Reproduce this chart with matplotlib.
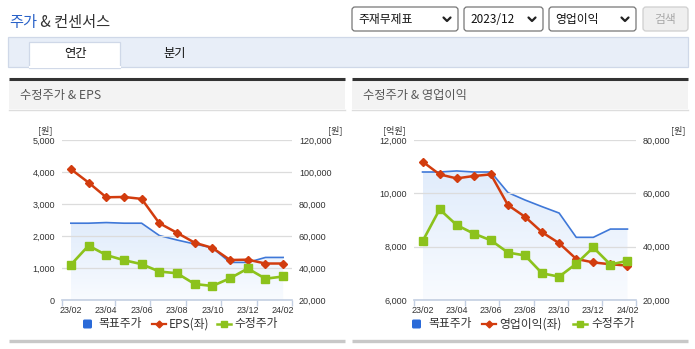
import matplotlib
matplotlib.use("Agg")
import matplotlib.pyplot as plt
import numpy as np
from matplotlib.patches import Rectangle, FancyBboxPatch

plt.rcParams["font.family"] = ["Noto Sans CJK KR", "DejaVu Sans"]

W, H = 695, 349

months = ["23/02", "23/03", "23/04", "23/05", "23/06", "23/07", "23/08",
          "23/09", "23/10", "23/11", "23/12", "24/01", "24/02"]
tick_labels = months[::2]

target_price = [68000, 68000, 68400, 68000, 68000, 60300, 57500, 55000, 52600,
                43500, 43500, 46600, 46600]
adj_price = [42000, 54000, 48100, 44900, 42400, 37800, 36700, 30000, 28750,
             33600, 39700, 33300, 34700]
eps = [4090, 3670, 3210, 3220, 3160, 2400, 2100, 1790, 1630, 1250, 1260, 1140, 1140]
op_income = [11190, 10710, 10560, 10650, 10710, 9560, 9120, 8540, 8130,
             7540, 7410, 7340, 7290]

BLUE = "#3f78d8"
RED = "#d23c0e"
GREEN = "#8cc21c"
TXT = "#333333"
AXC = "#c3cfe2"


def rect(x0, y0, x1, y1):
    return [x0 / W, 1 - y1 / H, (x1 - x0) / W, (y1 - y0) / H]


fig = plt.figure(figsize=(W / 100, H / 100), dpi=100)
bg = fig.add_axes([0, 0, 1, 1])
bg.set_xlim(0, W)
bg.set_ylim(H, 0)
bg.axis("off")

# header
t1 = bg.text(9, 23, "주가", fontsize=11, color="#2a62c8", va="center", ha="left")
bg.annotate(" & 컨센서스", xycoords=t1, xy=(1, 0.5), va="center", ha="left",
            fontsize=11, color=TXT)

boxes = [(352, 458, "주재무제표"), (464, 543, "2023/12"), (549, 636, "영업이익")]
for x0, x1, label in boxes:
    bg.add_patch(FancyBboxPatch((x0, 7), x1 - x0, 24, boxstyle="round,pad=0,rounding_size=3",
                                facecolor="white", edgecolor="#767676", lw=0.9))
    bg.text(x0 + 6, 19.5, label, fontsize=8.5, color="#111111", va="center", ha="left")
    cx = x1 - 11
    bg.plot([cx - 3.5, cx, cx + 3.5], [17.5, 21, 17.5], color="#222222", lw=1.6,
            solid_capstyle="round", solid_joinstyle="round")
bg.add_patch(FancyBboxPatch((643, 7), 45, 24, boxstyle="round,pad=0,rounding_size=3",
                            facecolor="#efefef", edgecolor="#cfcfcf", lw=0.9))
bg.text(665.5, 19.5, "검색", fontsize=8.5, color="#a8a8a8", va="center", ha="center")

# tabs
bg.add_patch(Rectangle((8, 37), 680, 30, facecolor="#e8eef8", edgecolor="#cfd8e8", lw=0.9))
bg.add_patch(Rectangle((29, 42), 91, 26, facecolor="white", edgecolor="#cfd8e8", lw=0.9))
bg.plot([29.5, 119.5], [67, 67], color="white", lw=1.5)
bg.text(75, 54, "연간", fontsize=8.8, color="#111111", va="center", ha="center")
bg.text(175, 54, "분기", fontsize=8.8, color="#111111", va="center", ha="center")

panels = [(9, 345, "수정주가 & EPS"), (352, 688, "수정주가 & 영업이익")]
for x0, x1, title in panels:
    bg.add_patch(Rectangle((x0, 80), x1 - x0, 29, facecolor="#f3f3f3", edgecolor="none"))
    bg.plot([x0, x1], [78.5, 78.5], color="#333333", lw=2.2, solid_capstyle="butt")
    bg.plot([x0, x1], [109.5, 109.5], color="#dddddd", lw=1)
    bg.plot([x0, x1], [341, 341], color="#c8c8c8", lw=2.4, solid_capstyle="butt")
    bg.text(x0 + 11, 95, title, fontsize=8.8, color="#555555", va="center", ha="left")


def draw_chart(x0, x1, bar_vals, bar_lim, bar_ticks, price_lim, price_ticks,
               left_unit, left_unit_x, right_unit_x):
    ax = fig.add_axes(rect(x0, 140, x1, 300))
    axb = ax.twinx()
    axg = ax.twinx()
    axb.set_zorder(1)
    ax.set_zorder(2)
    axg.set_zorder(3)
    ax.patch.set_visible(False)
    axb.patch.set_visible(False)
    axg.patch.set_visible(False)

    x = np.arange(len(months))
    for a in (ax, axb, axg):
        a.set_xlim(-0.5, len(months) - 0.5)
        for s in a.spines.values():
            s.set_visible(False)
    ax.spines["bottom"].set_visible(True)
    ax.spines["bottom"].set_color(AXC)
    ax.spines["bottom"].set_linewidth(1.2)

    ax.set_ylim(*bar_lim)
    axb.set_ylim(*price_lim)
    axg.set_ylim(*price_lim)

    # target price area with gradient
    poly = axb.fill_between(x, target_price, price_lim[0], facecolor="none", edgecolor="none")
    grad = np.zeros((256, 1, 4))
    top = np.array([0.88, 0.925, 0.985])
    bot = np.array([0.975, 0.985, 1.0])
    t = np.linspace(0, 1, 256)[:, None]
    grad[:, 0, :3] = bot + (top - bot) * t
    grad[:, 0, 3] = 1
    im = axb.imshow(grad, extent=[0, len(months) - 1, price_lim[0], max(target_price)],
                    origin="lower", aspect="auto", zorder=1)
    im.set_clip_path(poly.get_paths()[0], transform=axb.transData)
    axb.set_xlim(-0.5, len(months) - 0.5)
    axb.set_ylim(*price_lim)
    axb.plot(x, target_price, color=BLUE, lw=1.2, zorder=2)

    ax.plot(x, bar_vals, color=RED, lw=1.8, marker="D", ms=4.2, zorder=3)
    axg.plot(x, adj_price, color=GREEN, lw=1.9, marker="s", ms=5.8, zorder=3)

    ax.set_yticks(bar_ticks)
    ax.set_yticklabels([f"{v:,}" for v in bar_ticks])
    ax.grid(axis="y", color="#dcdcdc", lw=0.9)
    ax.set_axisbelow(True)
    ax.tick_params(axis="y", length=0, pad=5, labelsize=6.5, labelcolor=TXT)
    axb.set_yticks(price_ticks)
    axb.set_yticklabels([f"{v:,}" for v in price_ticks])
    axb.tick_params(axis="y", length=0, pad=5, labelsize=6.5, labelcolor=TXT)
    axg.set_yticks([])

    ax.set_xticks(x[::2])
    ax.set_xticklabels(tick_labels)
    ax.set_xticks(np.array([0, 3, 5, 7, 9, 11, 13]) - 0.5, minor=True)
    ax.tick_params(axis="x", which="major", length=0, pad=4.5, labelsize=6.5, labelcolor=TXT)
    ax.tick_params(axis="x", which="minor", length=4, width=1, color=AXC)
    for lab in ax.get_yticklabels() + axb.get_yticklabels() + ax.get_xticklabels():
        lab.set_fontfamily(["Liberation Sans", "DejaVu Sans"])

    bg.text(left_unit_x, 130, left_unit, fontsize=6.5, color=TXT, ha="center", va="center")
    bg.text(right_unit_x, 130, "[원]", fontsize=6.5, color=TXT, ha="center", va="center")


draw_chart(62, 292, eps, (0, 5000), list(range(0, 5001, 1000)),
           (20000, 120000), list(range(20000, 120001, 20000)), "[원]", 45, 335)
draw_chart(414, 636, op_income, (6000, 12000), list(range(6000, 12001, 2000)),
           (20000, 80000), list(range(20000, 80001, 20000)), "[억원]", 394, 678)


def legend(xs, red_label):
    bsq, btx, rln, rtx, gln, gtx = xs
    y = 324
    bg.add_patch(FancyBboxPatch((bsq, y - 4.5), 9, 9, boxstyle="round,pad=0,rounding_size=1.5",
                                facecolor="#2a6ad8", edgecolor="none"))
    bg.text(btx, y, "목표주가", fontsize=8.5, color=TXT, va="center", ha="left")
    bg.plot([rln, rln + 14], [y, y], color=RED, lw=1.6)
    bg.plot([rln + 7], [y], color=RED, marker="D", ms=3.5)
    bg.text(rtx, y, red_label, fontsize=8.5, color=TXT, va="center", ha="left")
    bg.plot([gln, gln + 14], [y, y], color=GREEN, lw=1.8)
    bg.plot([gln + 7], [y], color=GREEN, marker="s", ms=5)
    bg.text(gtx, y, "수정주가", fontsize=8.5, color=TXT, va="center", ha="left")


legend((83, 98, 152, 169, 217, 234), "EPS(좌)")
legend((412, 428, 482, 499, 573, 591), "영업이익(좌)")

fig.savefig("out.png", dpi=100)
